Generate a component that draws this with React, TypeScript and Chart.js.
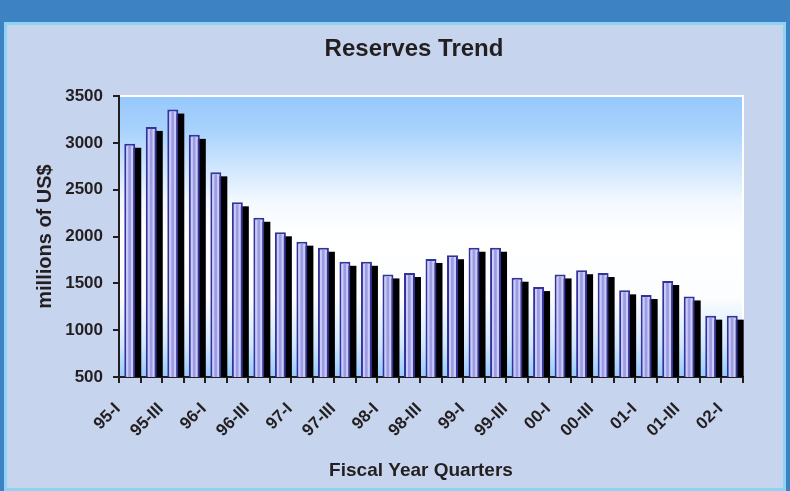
import React, { useEffect, useRef } from 'react';
import { Chart, registerables } from 'chart.js';

Chart.register(...registerables);

const categories = [
  '95-I', '95-II', '95-III', '95-IV',
  '96-I', '96-II', '96-III', '96-IV',
  '97-I', '97-II', '97-III', '97-IV',
  '98-I', '98-II', '98-III', '98-IV',
  '99-I', '99-II', '99-III', '99-IV',
  '00-I', '00-II', '00-III', '00-IV',
  '01-I', '01-II', '01-III', '01-IV',
  '02-I',
];

const reserves = [
  2990, 3170, 3355, 3085,
  2685, 2365, 2200, 2045,
  1945, 1880, 1730, 1730,
  1595, 1610, 1760, 1800,
  1880, 1880, 1560, 1460,
  1595, 1640, 1610, 1425,
  1375, 1525, 1360, 1155,
  1155,
];

const yMin = 500;
const yMax = 3500;
const yStep = 500;

const chartTitle = 'Reserves Trend';
const xTitle = 'Fiscal Year Quarters';
const yTitle = 'millions of US$';

const FONT = "'Liberation Sans', Arial, Helvetica, sans-serif";
const TEXT = '#231f20';
const AXIS = '#231f20';

export default function App() {
  const ref = useRef<HTMLCanvasElement>(null);

  useEffect(() => {
    const canvas = ref.current;
    if (!canvas) return;

    const bgPlugin = {
      id: 'plotBg',
      beforeDraw(chart: any) {
        const { ctx, chartArea } = chart;
        const { left, top, right, bottom } = chartArea;
        ctx.save();
        const g = ctx.createLinearGradient(0, top, 0, bottom);
        g.addColorStop(0, '#96c8fc');
        g.addColorStop(0.12, '#a8d2fc');
        g.addColorStop(0.38, '#f4f9ff');
        g.addColorStop(0.5, '#ffffff');
        g.addColorStop(0.72, '#fbfdff');
        g.addColorStop(0.88, '#d2e8fd');
        g.addColorStop(1, '#98cafc');
        ctx.fillStyle = g;
        ctx.fillRect(left, top, right - left, bottom - top);
        ctx.strokeStyle = '#ffffff';
        ctx.lineWidth = 2;
        ctx.beginPath();
        ctx.moveTo(left, top);
        ctx.lineTo(right, top);
        ctx.lineTo(right, bottom);
        ctx.stroke();
        ctx.restore();
      },
    };

    const barDecor = {
      id: 'barDecor',
      beforeDatasetsDraw(chart: any) {
        const { ctx, chartArea } = chart;
        const meta = chart.getDatasetMeta(0);
        ctx.save();
        ctx.beginPath();
        ctx.rect(chartArea.left, chartArea.top, chartArea.right - chartArea.left + 2, chartArea.bottom - chartArea.top);
        ctx.clip();
        ctx.fillStyle = '#000000';
        meta.data.forEach((bar: any) => {
          const { x, y, base, width } = bar.getProps(['x', 'y', 'base', 'width'], true);
          ctx.fillRect(x - width / 2 + 6, y + 4, width, base - y - 4);
        });
        ctx.restore();
      },
      afterDatasetsDraw(chart: any) {
        const { ctx, chartArea } = chart;
        const meta = chart.getDatasetMeta(0);
        ctx.save();
        meta.data.forEach((bar: any) => {
          const { x, y, base, width } = bar.getProps(['x', 'y', 'base', 'width'], true);
          const l = x - width / 2;
          const b = Math.min(base, chartArea.bottom);
          ctx.fillStyle = '#9c9ce0';
          ctx.fillRect(l + 4, y + 2, 2.7, b - y - 2);
        });
        ctx.restore();
      },
    };

    const titles = {
      id: 'titles',
      afterDraw(chart: any) {
        const { ctx } = chart;
        ctx.save();
        ctx.fillStyle = TEXT;
        ctx.textAlign = 'center';
        ctx.textBaseline = 'middle';
        ctx.font = `bold 24px ${FONT}`;
        ctx.fillText(chartTitle, 407, 24);
        ctx.font = `bold 19px ${FONT}`;
        ctx.fillText(xTitle, 414, 446);
        ctx.restore();
      },
    };

    const chart = new Chart(canvas, {
      type: 'bar',
      data: {
        labels: categories,
        datasets: [
          {
            data: reserves,
            backgroundColor: '#cacafd',
            borderColor: '#33339a',
            borderWidth: 2,
            barPercentage: 0.51,
            categoryPercentage: 1,
          },
        ],
      },
      options: {
        responsive: false,
        animation: false,
        layout: { padding: { top: 71, right: 40, left: 0, bottom: 0 } },
        plugins: {
          legend: { display: false },
          title: { display: false },
          tooltip: { enabled: false },
        },
        scales: {
          x: {
            grid: {
              display: true,
              drawOnChartArea: false,
              drawTicks: true,
              tickLength: 6,
              color: AXIS,
              lineWidth: 2,
            },
            border: { display: true, color: AXIS, width: 2 },
            ticks: {
              autoSkip: false,
              maxRotation: 45,
              minRotation: 45,
              padding: 16,
              labelOffset: -12,
              color: TEXT,
              font: { family: FONT, size: 17, weight: 'bold' },
              callback: (_v: any, i: number) => (i % 2 === 0 ? categories[i] : ''),
            },
            afterFit: (s: any) => {
              s.height = 111;
            },
          },
          y: {
            min: yMin,
            max: yMax,
            grid: {
              display: true,
              drawOnChartArea: false,
              drawTicks: true,
              tickLength: 6,
              color: AXIS,
              lineWidth: 2,
            },
            border: { display: true, color: AXIS, width: 2 },
            ticks: {
              stepSize: yStep,
              padding: 10,
              color: TEXT,
              font: { family: FONT, size: 17, weight: 'bold' },
              callback: (v: any) => String(v),
            },
            title: {
              display: true,
              text: yTitle,
              color: TEXT,
              font: { family: FONT, size: 20, weight: 'bold' },
              padding: { top: 26, bottom: 0 },
            },
            afterFit: (s: any) => {
              s.width = 112;
            },
          },
        },
      },
      plugins: [bgPlugin, barDecor, titles],
    } as any);

    return () => chart.destroy();
  }, []);

  return (
    <div
      style={{
        position: 'fixed',
        left: 0,
        top: 0,
        width: 790,
        height: 491,
        background: '#3d83c4',
        overflow: 'hidden',
      }}
    >
      <div
        style={{
          position: 'absolute',
          left: 4,
          top: 22,
          width: 782,
          height: 469,
          boxSizing: 'border-box',
          border: '3px solid #8ed2f4',
          background: '#c7d4ee',
        }}
      >
        <canvas ref={ref} width={776} height={463} style={{ display: 'block', width: 776, height: 463 }} />
      </div>
    </div>
  );
}
